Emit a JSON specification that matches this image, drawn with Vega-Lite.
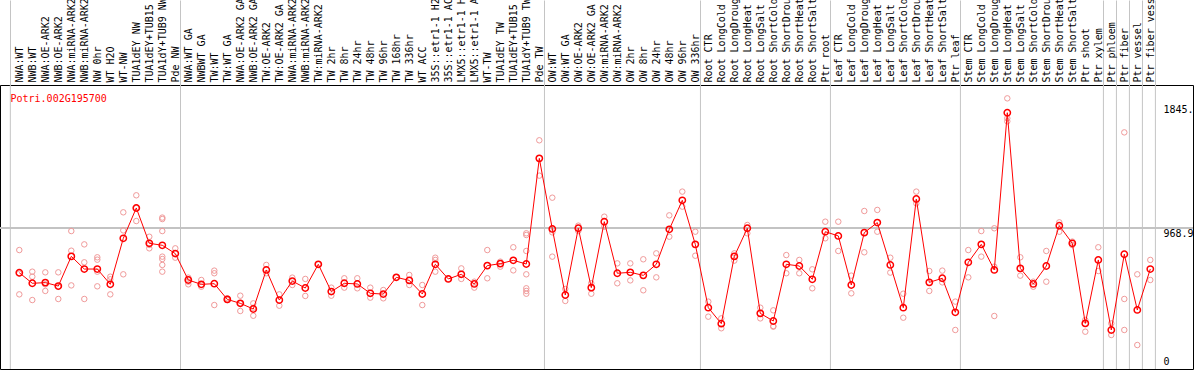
{
  "$schema": "https://vega.github.io/schema/vega-lite/v6.json",
  "width": 1193,
  "height": 284,
  "autosize": {"type": "none"},
  "padding": {"top": 85, "left": 0, "right": 1, "bottom": 1},
  "background": "white",
  "config": {
    "view": {"stroke": "black", "strokeWidth": 1},
    "axis": {"labelFont": "DejaVu Sans Mono", "labelFontSize": 10, "labelColor": "black"}
  },
  "data": {"values": [
    {"i":1,"t":"NWA:WT","m":632,"r":[804,625,468]},
    {"i":2,"t":"NWB:WT","m":552,"r":[640,602,425]},
    {"i":3,"t":"NWA:OE-ARK2","m":557,"r":[635,544,494]},
    {"i":4,"t":"NWB:OE-ARK2","m":531,"r":[635,525,433]},
    {"i":5,"t":"NWA:miRNA-ARK2","m":756,"r":[948,799,536]},
    {"i":6,"t":"NWB:miRNA-ARK2","m":660,"r":[847,711,433]},
    {"i":7,"t":"NW 0hr","m":660,"r":[749,731,640,529]},
    {"i":8,"t":"WT H2O","m":544,"r":[602,582,468]},
    {"i":9,"t":"WT-NW","m":893,"r":[1090,953,620]},
    {"i":10,"t":"TUA1dEY NW","m":1123,"r":[1219,1122,1024]},
    {"i":11,"t":"TUA1dEY+TUB15 NW","m":855,"r":[905,843,817]},
    {"i":12,"t":"TUA1dY+TUB9 NW","m":840,"r":[1050,1039,948,754,736,691,640]},
    {"i":13,"t":"Pde NW","m":777,"r":[817,746]},
    {"i":14,"t":"NWA:WT GA","m":577,"r":[595,564,544]},
    {"i":15,"t":"NWBWT GA","m":544,"r":[577,526]},
    {"i":16,"t":"TW:WT","m":549,"r":[648,628,387]},
    {"i":17,"t":"TW:WT GA","m":430,"r":[438,425]},
    {"i":18,"t":"NWA:OE-ARK2 GA","m":400,"r":[458,400,342]},
    {"i":19,"t":"NWB:OE-ARK2 GA","m":357,"r":[400,367,306]},
    {"i":20,"t":"TW:OE-ARK2","m":653,"r":[691,628]},
    {"i":21,"t":"TW:OE-ARK2 GA","m":425,"r":[468,382]},
    {"i":22,"t":"NWA:miRNA-ARK2 GA","m":569,"r":[595,539]},
    {"i":23,"t":"NWB:miRNA-ARK2 GA","m":516,"r":[585,456]},
    {"i":24,"t":"TW:miRNA-ARK2","m":696,"r":[696]},
    {"i":25,"t":"TW 2hr","m":489,"r":[519,458]},
    {"i":26,"t":"TW 8hr","m":552,"r":[590,519]},
    {"i":27,"t":"TW 24hr","m":547,"r":[590,514]},
    {"i":28,"t":"TW 48hr","m":476,"r":[519,443]},
    {"i":29,"t":"TW 96hr","m":470,"r":[501,438]},
    {"i":30,"t":"TW 168hr","m":597,"r":[597]},
    {"i":31,"t":"TW 336hr","m":574,"r":[615,539]},
    {"i":32,"t":"WT ACC","m":471,"r":[539,387]},
    {"i":33,"t":"35S::etr1-1 H2O","m":696,"r":[746,729,640]},
    {"i":34,"t":"35S::etr1-1 ACC","m":585,"r":[585]},
    {"i":35,"t":"LMX5::etr1-1 H2O","m":620,"r":[665,585]},
    {"i":36,"t":"LMX5::etr1-1 ACC","m":547,"r":[564,519]},
    {"i":37,"t":"WT-TW","m":686,"r":[804,590]},
    {"i":38,"t":"TUA1dEY TW","m":701,"r":[716,678]},
    {"i":39,"t":"TUA1dEY+TUB15 TW","m":726,"r":[825,650]},
    {"i":40,"t":"TUA1dY+TUB9 TW","m":698,"r":[931,918,797,620,514,494,473]},
    {"i":41,"t":"Pde TW","m":1499,"r":[1636,1368]},
    {"i":42,"t":"OW:WT","m":964,"r":[1201,938,754]},
    {"i":43,"t":"OW:WT GA","m":463,"r":[509,418]},
    {"i":44,"t":"OW:OE-ARK2","m":969,"r":[989,948]},
    {"i":45,"t":"OW:OE-ARK2 GA","m":519,"r":[552,473]},
    {"i":46,"t":"OW:miRNA-ARK2","m":1019,"r":[1057,981]},
    {"i":47,"t":"OW:miRNA-ARK2 GA","m":628,"r":[703,552]},
    {"i":48,"t":"OW 2hr","m":635,"r":[703,574]},
    {"i":49,"t":"OW 8hr","m":612,"r":[734,499]},
    {"i":50,"t":"OW 24hr","m":696,"r":[779,597]},
    {"i":51,"t":"OW 48hr","m":961,"r":[1067,905]},
    {"i":52,"t":"OW 96hr","m":1181,"r":[1247,1133]},
    {"i":53,"t":"OW 336hr","m":847,"r":[943,761]},
    {"i":54,"t":"Root CTR","m":367,"r":[413,299]},
    {"i":55,"t":"Root LongCold","m":246,"r":[286,211]},
    {"i":56,"t":"Root LongDrought","m":756,"r":[779,724]},
    {"i":57,"t":"Root LongHeat","m":969,"r":[994,931]},
    {"i":58,"t":"Root LongSalt","m":324,"r":[367,286]},
    {"i":59,"t":"Root ShortCold","m":266,"r":[347,223,228]},
    {"i":60,"t":"Root ShortDrought","m":696,"r":[766,628]},
    {"i":61,"t":"Root ShortHeat","m":683,"r":[729,628]},
    {"i":62,"t":"Root ShortSalt","m":582,"r":[658,514]},
    {"i":63,"t":"Ptr root","m":943,"r":[1019,893]},
    {"i":64,"t":"Leaf CTR","m":911,"r":[1019,797]},
    {"i":65,"t":"Leaf LongCold","m":539,"r":[610,476]},
    {"i":66,"t":"Leaf LongDrought","m":936,"r":[1100,787]},
    {"i":67,"t":"Leaf LongHeat","m":1012,"r":[1108,943]},
    {"i":68,"t":"Leaf LongSalt","m":691,"r":[746,633]},
    {"i":69,"t":"Leaf ShortCold","m":367,"r":[473,291]},
    {"i":70,"t":"Leaf ShortDrought","m":1191,"r":[1247,1158]},
    {"i":71,"t":"Leaf ShortHeat","m":559,"r":[645,494]},
    {"i":72,"t":"Leaf ShortSalt","m":590,"r":[648,559]},
    {"i":73,"t":"Ptr leaf","m":332,"r":[413,198]},
    {"i":74,"t":"Stem CTR","m":711,"r":[804,597]},
    {"i":75,"t":"Stem LongCold","m":847,"r":[948,754]},
    {"i":76,"t":"Stem LongDrought","m":653,"r":[969,678,304]},
    {"i":77,"t":"Stem LongHeat","m":1845,"r":[1954,1803,1780]},
    {"i":78,"t":"Stem LongSalt","m":665,"r":[749,610]},
    {"i":79,"t":"Stem ShortCold","m":547,"r":[564,526]},
    {"i":80,"t":"Stem ShortDrought","m":683,"r":[797,564]},
    {"i":81,"t":"Stem ShortHeat","m":989,"r":[1014,943]},
    {"i":82,"t":"Stem ShortSalt","m":855,"r":[868,842]},
    {"i":83,"t":"Ptr shoot","m":248,"r":[274,185]},
    {"i":84,"t":"Ptr xylem","m":729,"r":[825,645]},
    {"i":85,"t":"Ptr phloem","m":198,"r":[248,160]},
    {"i":86,"t":"Ptr fiber","m":772,"r":[1696,433,198]},
    {"i":87,"t":"Ptr vessel","m":350,"r":[620,84]},
    {"i":88,"t":"Ptr fiber vessel","m":660,"r":[729,577]}
  ]},
  "layer": [
    {
      "data": {"values": [{"b":0.31},{"b":13.4},{"b":41.4},{"b":53.4},{"b":63.4},{"b":73.4},{"b":84.4},{"b":85.4},{"b":86.4},{"b":87.4},{"b":88.4}]},
      "mark": {"type": "rule", "color": "#c4c4c4", "strokeWidth": 1},
      "encoding": {
        "x": {"field": "b", "type": "quantitative",
          "scale": {"domain": [-0.4846, 91.2923], "nice": false, "zero": false},
          "axis": {"orient": "top", "values": [0.31,13.4,41.4,53.4,63.4,73.4,84.4,85.4,86.4,87.4,88.4], "labels": false, "domain": false, "grid": false, "ticks": true, "tickSize": 85, "tickColor": "#c4c4c4", "tickWidth": 1, "title": null}}
      }
    },
    {
      "mark": {"type": "rule", "color": "#c4c4c4", "strokeWidth": 1},
      "encoding": {
        "y": {"datum": 968.9, "type": "quantitative", "scale": {"domain": [-97.8, 2055.2], "nice": false, "zero": false}}
      }
    },
    {
      "encoding": {
        "x": {"field": "t", "type": "nominal", "sort": {"field": "i", "op": "min"},
          "scale": {"type": "point", "range": [19.3, 1150.3], "padding": 0},
          "axis": {"orient": "top", "labelAngle": -90, "labelAlign": "left", "labelBaseline": "middle", "labelPadding": 3, "labelOffset": 0, "ticks": false, "domain": false, "grid": false, "labelOverlap": false, "labelLimit": 0, "title": null}}
      },
      "layer": [
        {
          "transform": [{"flatten": ["r"]}],
          "mark": {"type": "point", "shape": "circle", "filled": false, "size": 30, "color": "#f09a9a", "strokeWidth": 1, "opacity": 1},
          "encoding": {
            "y": {"field": "r", "type": "quantitative", "scale": {"domain": [-97.8, 2055.2], "nice": false, "zero": false}}
          }
        },
        {
          "mark": {"type": "line", "color": "#ff0000", "strokeWidth": 1},
          "encoding": {
            "y": {"field": "m", "type": "quantitative", "scale": {"domain": [-97.8, 2055.2], "nice": false, "zero": false}},
            "order": {"field": "i", "type": "quantitative"}
          }
        },
        {
          "mark": {"type": "point", "shape": "circle", "filled": false, "size": 40, "color": "#ff0000", "strokeWidth": 1.5, "opacity": 1},
          "encoding": {
            "y": {"field": "m", "type": "quantitative", "scale": {"domain": [-97.8, 2055.2], "nice": false, "zero": false},
              "axis": {"orient": "right", "values": [0, 968.9, 1845.1], "labelExpr": "datum.value == 0 ? '0' : format(datum.value, '.1f')", "labelAlign": "left", "labelBaseline": {"condition": {"test": "datum.value > 1000", "value": "alphabetic"}, "value": "top"}, "labelPadding": -30, "ticks": false, "domain": false, "grid": false,
                "title": "Potri.002G195700", "titleColor": "#ff0000", "titleFont": "DejaVu Sans Mono", "titleFontSize": 10, "titleFontWeight": "normal", "titleAngle": 0, "titleAlign": "left", "titleBaseline": "top", "titleX": -1183, "titleY": 8}}
          }
        }
      ]
    }
  ],
  "resolve": {"scale": {"x": "independent"}}
}
